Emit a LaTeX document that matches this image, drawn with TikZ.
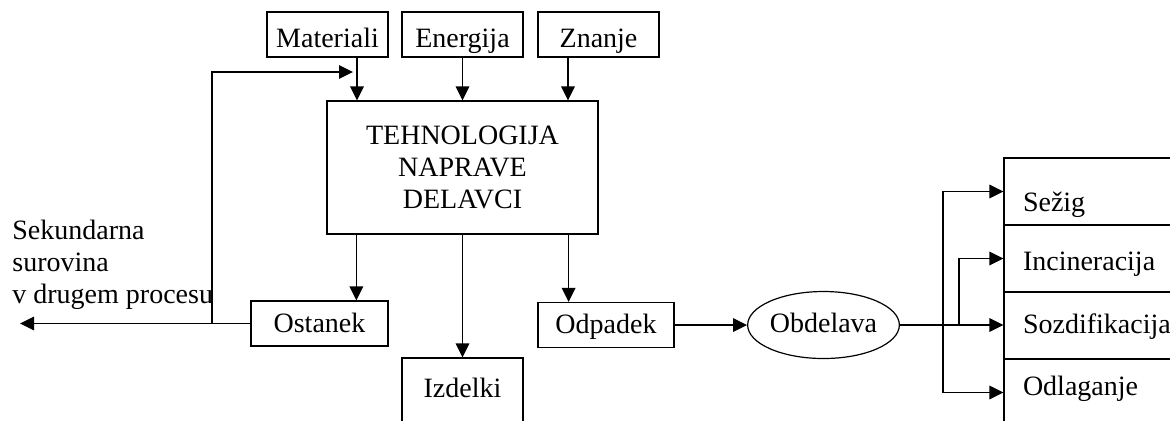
\documentclass[tikz,border=0pt]{standalone}
\usepackage{fontspec}
\setmainfont{Liberation Serif}
\usetikzlibrary{shapes,arrows.meta}

\begin{document}
\begin{tikzpicture}[x=0.5pt, y=-0.5pt, font=\fontsize{14}{16}\selectfont]
    % Define block styles
    \tikzstyle{block} = [rectangle, draw, line width=0.6pt, inner sep=0pt,
        minimum height=22.5pt, text depth=0pt]
    \tikzstyle{cell} = [rectangle, draw, line width=0.6pt, inner xsep=9.5pt,
        inner ysep=0pt, minimum height=33.5pt, text width=81pt, align=left,
        text depth=0pt]
    \tikzstyle{line} = [draw, line width=0.6pt, -{Triangle[length=7pt, width=6.8pt]}]

    \useasboundingbox (0,0) rectangle (1170,420);

    % Place nodes
    \node [block, minimum width=60.5pt, text height=12.5pt] (mat) at (327.5,34.5) {Materiali};
    \node [block, minimum width=60.5pt, text height=12.5pt] (ene) at (462.5,34.5) {Energija};
    \node [block, minimum width=60.5pt, text height=12.5pt] (zna) at (598.5,34.5) {Znanje};
    \node [draw, line width=0.6pt, inner sep=0pt, minimum width=135.5pt,
        minimum height=66.5pt, align=center]
        (teh) at (462.5,167.5) {TEHNOLOGIJA\\NAPRAVE\\DELAVCI};
    \node [block, minimum width=68.5pt, text height=8.5pt] (ost) at (319.5,323.5) {Ostanek};
    \node [block, minimum width=60.5pt, minimum height=33.5pt, text height=5.5pt]
        (izd) at (462.5,391.5) {Izdelki};
    \node [block, minimum width=68pt, text height=8.5pt] (odp) at (606,325) {Odpadek};
    \node [ellipse, draw, line width=0.6pt, inner sep=0pt, minimum width=75.5pt,
        minimum height=33.5pt, text height=7.5pt, text depth=0pt] (obd) at (823.5,325) {Obdelava};
    \node [cell, text height=20pt] (sez) at (1104,191.5) {Sežig};
    \node [cell, text height=11.5pt] (inc) at (1104,258.5) {Incineracija};
    \node [cell, text height=7.5pt] (soz) at (1104,325.5) {Sozdifikacija};
    \node [cell, text height=2.5pt] (odl) at (1104,392.5) {Odlaganje};
    \node [align=left, anchor=north west, inner sep=0pt] (sek) at (12,220)
        {Sekundarna\\surovina\\v drugem procesu};

    \coordinate (out) at (20,323.5);
    \coordinate (back) at (212,72);
    \coordinate (tr1) at (943,0);
    \coordinate (tr2) at (959,0);

    % Draw edges
    \path [line] ([xshift=14.75pt]mat.south) -- ([xshift=14.75pt]mat.south |- teh.north);
    \path [line] (ene.south) -- (teh.north);
    \path [line] ([xshift=-15.25pt]zna.south) -- ([xshift=-15.25pt]zna.south |- teh.north);
    \path [line] ([xshift=15pt]teh.south west) -- ([xshift=15pt]teh.south west |- ost.north);
    \path [line] (teh.south) -- (izd.north);
    \path [line] ([xshift=-15pt]teh.south east) -- ([xshift=-15pt]teh.south east |- odp.north);
    \path [line] (ost.west) -- (out);
    \path [line] (ost.west -| back) |- ([xshift=12.75pt]mat.south |- back);
    \path [line] (odp.east) -- (obd.west);
    \path [line] (obd.east) -- (obd.east -| soz.west);
    \path [line] (tr1 |- obd.east) |- (sez.west);
    \path [line] (tr1 |- obd.east) |- (odl.west);
    \path [line] (tr2 |- obd.east) |- (inc.west);
\end{tikzpicture}
\end{document}
